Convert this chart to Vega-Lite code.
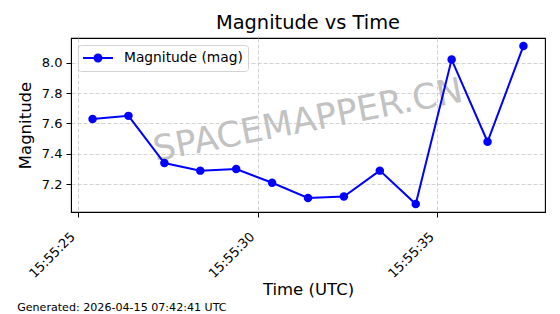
{
  "$schema": "https://vega.github.io/schema/vega-lite/v6.json",
  "width": 474,
  "height": 174,
  "autosize": "none",
  "padding": {"left": 71, "top": 38, "right": 15, "bottom": 102},
  "background": "white",
  "config": {
    "font": "DejaVu Sans",
    "view": {"stroke": "black", "strokeWidth": 1.1},
    "axis": {
      "domainColor": "black",
      "tickColor": "black",
      "labelColor": "black",
      "titleColor": "black",
      "titleFontWeight": "normal",
      "labelFontSize": 13,
      "titleFontSize": 16.5,
      "tickSize": 5,
      "gridColor": "#c8c8c8",
      "gridDash": [4, 2],
      "gridWidth": 0.8
    }
  },
  "title": {
    "text": "Magnitude vs Time",
    "fontSize": 19.4,
    "fontWeight": "normal",
    "color": "black",
    "anchor": "middle",
    "offset": 5
  },
  "datasets": {
    "series": [
      {"time": "2026-04-15T15:55:25.400Z", "mag": 7.63},
      {"time": "2026-04-15T15:55:26.400Z", "mag": 7.65},
      {"time": "2026-04-15T15:55:27.400Z", "mag": 7.34},
      {"time": "2026-04-15T15:55:28.400Z", "mag": 7.29},
      {"time": "2026-04-15T15:55:29.400Z", "mag": 7.30},
      {"time": "2026-04-15T15:55:30.400Z", "mag": 7.21},
      {"time": "2026-04-15T15:55:31.400Z", "mag": 7.11},
      {"time": "2026-04-15T15:55:32.400Z", "mag": 7.12},
      {"time": "2026-04-15T15:55:33.400Z", "mag": 7.29},
      {"time": "2026-04-15T15:55:34.400Z", "mag": 7.07},
      {"time": "2026-04-15T15:55:35.400Z", "mag": 8.02},
      {"time": "2026-04-15T15:55:36.400Z", "mag": 7.48},
      {"time": "2026-04-15T15:55:37.400Z", "mag": 8.11}
    ],
    "watermark": [
      {"label": "SPACEMAPPER.CN", "time": "2026-04-15T15:55:31.400Z", "mag": 7.62}
    ],
    "footer": [
      {"label": "Generated: 2026-04-15 07:42:41 UTC", "time": "2026-04-15T15:55:23.300Z", "mag": 6.39}
    ]
  },
  "layer": [
    {
      "data": {"name": "watermark"},
      "mark": {"type": "text", "angle": -11, "fontSize": 35, "color": "#c2c2c2", "align": "center", "baseline": "middle"},
      "encoding": {
        "x": {"field": "time", "type": "temporal"},
        "y": {"field": "mag", "type": "quantitative"},
        "text": {"field": "label"}
      }
    },
    {
      "data": {"name": "series"},
      "mark": {"type": "line", "strokeWidth": 2, "point": {"filled": true, "size": 72}},
      "encoding": {
        "x": {
          "field": "time",
          "type": "temporal",
          "scale": {
            "type": "utc",
            "domain": [
              {"year": 2026, "month": 4, "date": 15, "hours": 15, "minutes": 55, "seconds": 24, "milliseconds": 800, "utc": true},
              {"year": 2026, "month": 4, "date": 15, "hours": 15, "minutes": 55, "seconds": 38, "milliseconds": 0, "utc": true}
            ]
          },
          "axis": {
            "title": "Time (UTC)",
            "values": [
              {"year": 2026, "month": 4, "date": 15, "hours": 15, "minutes": 55, "seconds": 25, "utc": true},
              {"year": 2026, "month": 4, "date": 15, "hours": 15, "minutes": 55, "seconds": 30, "utc": true},
              {"year": 2026, "month": 4, "date": 15, "hours": 15, "minutes": 55, "seconds": 35, "utc": true}
            ],
            "labelExpr": "utcFormat(datum.value, '%H:%M:%S')",
            "labelAngle": -45,
            "labelAlign": "right",
            "labelBaseline": "top",
            "labelPadding": 13,
            "labelOffset": -10,
            "titlePadding": 1
          }
        },
        "y": {
          "field": "mag",
          "type": "quantitative",
          "scale": {"domain": [7.018, 8.162], "zero": false, "nice": false},
          "axis": {
            "title": "Magnitude",
            "values": [7.2, 7.4, 7.6, 7.8, 8.0],
            "format": ".1f",
            "labelPadding": 4,
            "titlePadding": 8
          }
        },
        "color": {
          "datum": "Magnitude (mag)",
          "type": "nominal",
          "scale": {"range": ["#0000ff"]},
          "legend": {
            "title": null,
            "orient": "top-left",
            "offset": 7,
            "padding": 5,
            "strokeColor": "#d3d3d3",
            "fillColor": "rgba(255,255,255,0.8)",
            "cornerRadius": 3,
            "labelFontSize": 13.8,
            "labelColor": "black",
            "labelOffset": 25,
            "symbolSize": 196,
            "symbolType": "M-1.14,0H3.14M1.5,0A0.5,0.5,0,1,1,0.5,0A0.5,0.5,0,1,1,1.5,0Z",
            "symbolFillColor": "#0000ff",
            "symbolStrokeColor": "#0000ff",
            "symbolStrokeWidth": 2
          }
        }
      }
    },
    {
      "data": {"name": "footer"},
      "mark": {"type": "text", "fontSize": 11.1, "color": "black", "align": "left", "baseline": "middle"},
      "encoding": {
        "x": {"field": "time", "type": "temporal"},
        "y": {"field": "mag", "type": "quantitative"},
        "text": {"field": "label"}
      }
    }
  ]
}
